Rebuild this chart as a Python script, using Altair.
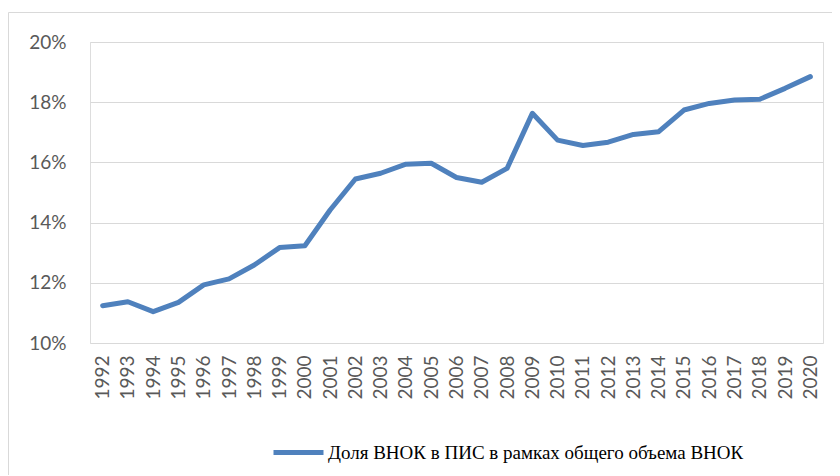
import altair as alt
import pandas as pd

years = [str(y) for y in range(1992, 2021)]
values = [11.24, 11.37, 11.04, 11.35, 11.93, 12.13, 12.59, 13.17, 13.23, 14.42,
          15.45, 15.64, 15.94, 15.97, 15.50, 15.34, 15.80, 17.63, 16.74, 16.56,
          16.67, 16.93, 17.02, 17.74, 17.96, 18.07, 18.10, 18.46, 18.85]
series_name = "Доля ВНОК в ПИС в рамках общего объема ВНОК"
y_ticks = [10, 12, 14, 16, 18, 20]

df = pd.DataFrame({"year": years, "value": values, "series": series_name})

W, H = 733, 301

border = alt.Chart(pd.DataFrame({"a": [0]})).mark_rect(
    fillOpacity=0, stroke="#D9D9D9", strokeWidth=1
).encode(
    x=alt.value(-81.5), x2=alt.value(W + 40),
    y=alt.value(-29.5), y2=alt.value(H + 160)
)

line = alt.Chart(df).mark_line(strokeWidth=5, strokeCap="round", strokeJoin="round").encode(
    x=alt.X("year:O", sort=years,
            scale=alt.Scale(type="point", padding=0.5),
            axis=alt.Axis(title=None, labelAngle=-90, labelFont="Lato", labelFontSize=19,
                          labelColor="#595959", ticks=False, domain=False, labelPadding=12,
                          grid=False)),
    y=alt.Y("value:Q", scale=alt.Scale(domain=[10, 20], nice=False, zero=False),
            axis=alt.Axis(title=None, values=y_ticks, labelExpr="datum.value + '%'",
                          labelFont="Lato", labelFontSize=19, labelColor="#595959",
                          ticks=False, domain=False, labelPadding=24,
                          grid=True, gridColor="#D9D9D9", gridWidth=1.2)),
    color=alt.Color("series:N", scale=alt.Scale(range=["#4F81BD"]),
                    legend=alt.Legend(title=None, orient="none", legendX=181, legendY=383,
                                      symbolType="stroke", symbolSize=2500,
                                      symbolStrokeWidth=5, labelFont="Liberation Serif",
                                      labelFontSize=19, labelColor="#000000", labelOffset=2,
                                      labelLimit=0))
)

chart = alt.layer(border, line).properties(
    width=W, height=H,
    autosize=alt.AutoSizeParams(type="none"),
    padding={"left": 82, "top": 34, "right": 9, "bottom": 132}
).configure_view(stroke=None).configure(background="white")

chart.save("out.html", embed_options={"renderer": "svg", "actions": False})
